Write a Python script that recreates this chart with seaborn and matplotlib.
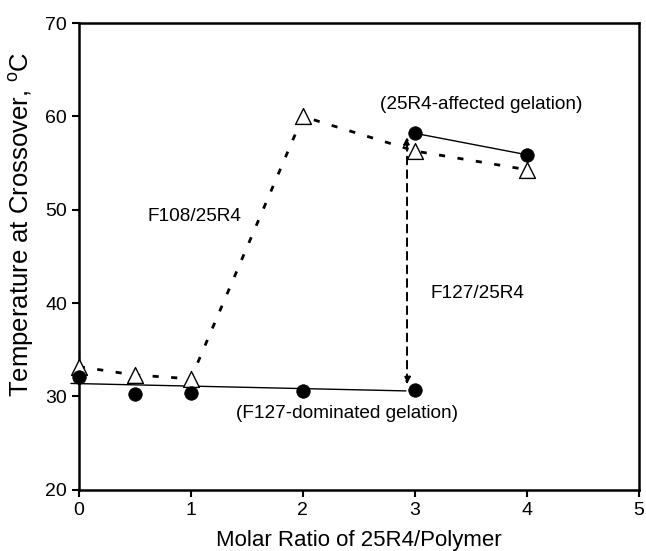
import numpy as np
import pandas as pd
import seaborn as sns
import matplotlib as mpl
import matplotlib.pyplot as plt

mpl.use('Agg')

# 数据
ratio_f108 = [0, 0.5, 1, 2, 3, 4]
temp_f108 = [33.2, 32.3, 31.9, 60.0, 56.3, 54.3]

ratio_f127 = [0, 0.5, 1, 2, 3, 3, 4]
temp_f127 = [32.1, 30.3, 30.4, 30.6, 30.7, 58.2, 55.9]

# F127 低温段趋势线 与 高温段连线
trend_x = [-0.07, 2.92]
trend_y = [31.4, 30.6]
high_x = [3, 4]
high_y = [58.2, 55.9]

# 跃迁箭头
jump_x = 2.93
jump_y = [31.3, 57.8]

xticks = [0, 1, 2, 3, 4, 5]
yticks = [20, 30, 40, 50, 60, 70]

sns.set_style('ticks')
plt.rcParams['font.family'] = ['Liberation Sans', 'DejaVu Sans']
for k in ['text.color', 'axes.labelcolor', 'xtick.color', 'ytick.color']:
    plt.rcParams[k] = 'black'

fig = plt.figure(figsize=(6.46, 5.51), dpi=100)
ax = fig.add_axes([0.122, 0.111, 0.867, 0.847])

df108 = pd.DataFrame({'x': ratio_f108, 'y': temp_f108})
df127 = pd.DataFrame({'x': ratio_f127, 'y': temp_f127})

# F108/25R4: 虚线 + 空心三角
sns.lineplot(data=df108, x='x', y='y', ax=ax, color='black', sort=False,
             linestyle=(0, (2.2, 4.5)), linewidth=2.0, zorder=2)
sns.scatterplot(data=df108, x='x', y='y', ax=ax, marker='^', s=130,
                facecolor='white', edgecolor='black', linewidth=1.0,
                zorder=4, clip_on=False)

# F127/25R4: 实线 + 实心圆
sns.lineplot(x=trend_x, y=trend_y, ax=ax, color='black', linewidth=1.0,
             zorder=2, clip_on=False)
sns.lineplot(x=high_x, y=high_y, ax=ax, color='black', linewidth=1.0, zorder=2)
sns.scatterplot(data=df127, x='x', y='y', ax=ax, marker='o', s=95,
                color='black', edgecolor='black', linewidth=0.5,
                zorder=5, clip_on=False)

ax.annotate('', xy=(jump_x, jump_y[1]), xytext=(jump_x, jump_y[0]),
            arrowprops=dict(arrowstyle='<|-|>', linestyle=(0, (4, 3)),
                            color='black', lw=1.4, mutation_scale=10,
                            shrinkA=0, shrinkB=0), zorder=3)

tfs = 13.7
ax.text(3.59, 61.3, '(25R4-affected gelation)', ha='center', va='center', fontsize=tfs)
ax.text(1.03, 49.3, 'F108/25R4', ha='center', va='center', fontsize=tfs)
ax.text(3.56, 41.0, 'F127/25R4', ha='center', va='center', fontsize=tfs)
ax.text(2.39, 28.2, '(F127-dominated gelation)', ha='center', va='center', fontsize=tfs)

ax.set_xlim(0, 5)
ax.set_ylim(20, 70)
ax.set_xticks(xticks)
ax.set_yticks(yticks)
ax.tick_params(labelsize=14, width=1.5, length=5, direction='out', color='black')
for sp in ax.spines.values():
    sp.set_visible(True)
    sp.set_linewidth(1.8)
    sp.set_color('black')

ax.set_xlabel('Molar Ratio of 25R4/Polymer', fontsize=16, labelpad=8)
ax.set_ylabel('Temperature at Crossover, $^{\\mathregular{o}}$C', fontsize=18.5)
ax.yaxis.set_label_coords(-0.076, 0.57)

fig.savefig('out.png', dpi=100)
plt.close(fig)
